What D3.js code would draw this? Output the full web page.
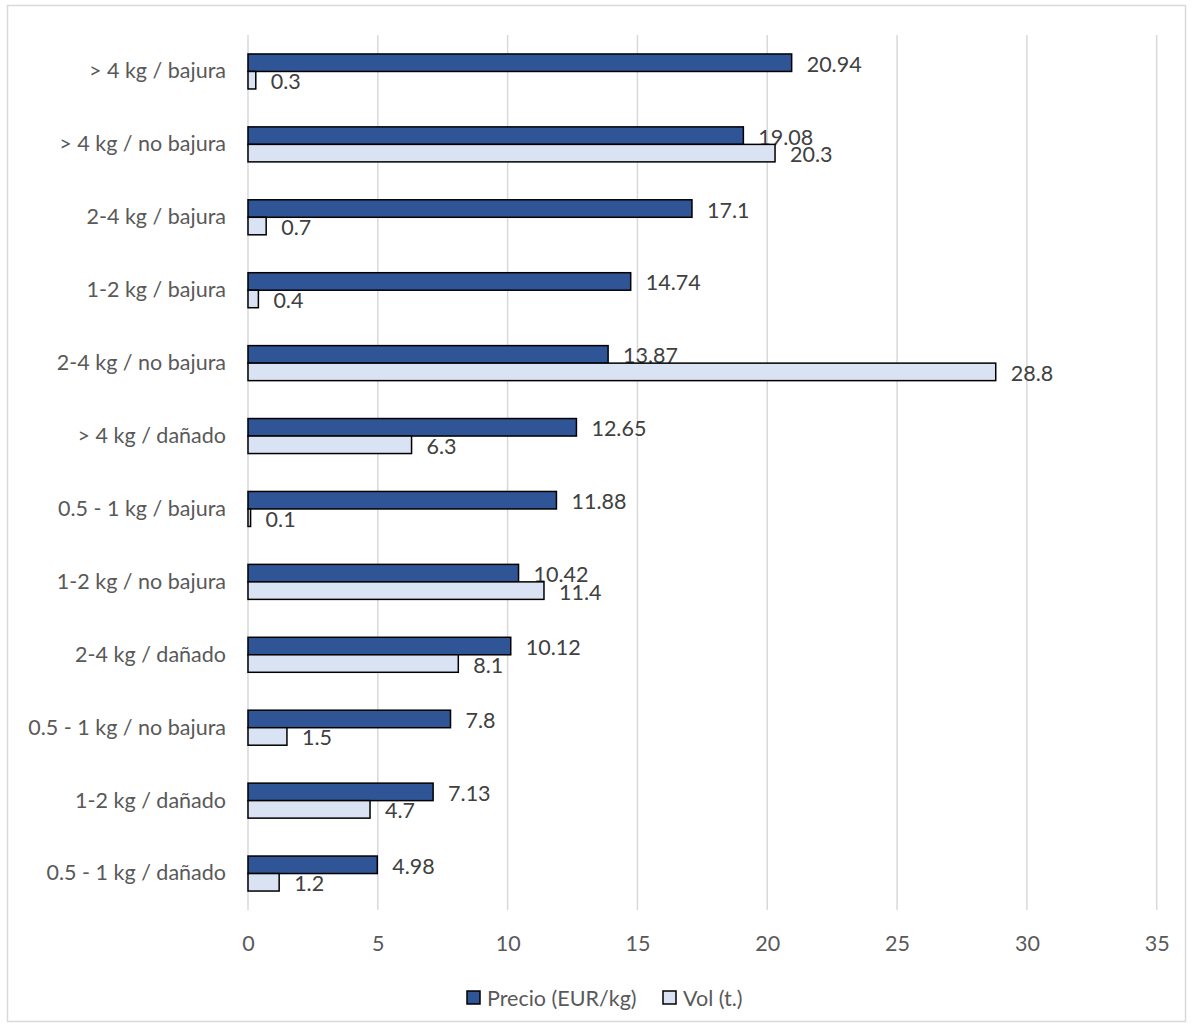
<!DOCTYPE html>
<html><head><meta charset="utf-8">
<script src="https://cdn.jsdelivr.net/npm/d3@7"></script>
<style>html,body{margin:0;padding:0;background:#fff;}svg{display:block;font-family:Lato,"Open Sans",sans-serif;}</style>
</head><body>
<svg id="c" width="1192" height="1028"></svg>
<script>
const categories = ["> 4 kg / bajura","> 4 kg / no bajura","2-4 kg / bajura","1-2 kg / bajura","2-4 kg / no bajura","> 4 kg / dañado","0.5 - 1 kg / bajura","1-2 kg / no bajura","2-4 kg / dañado","0.5 - 1 kg / no bajura","1-2 kg / dañado","0.5 - 1 kg / dañado"];
const precio = [20.94,19.08,17.1,14.74,13.87,12.65,11.88,10.42,10.12,7.8,7.13,4.98];
const vol = [0.3,20.3,0.7,0.4,28.8,6.3,0.1,11.4,8.1,1.5,4.7,1.2];
const xTicks = [0,5,10,15,20,25,30,35];
const seriesNames = ["Precio (EUR/kg)","Vol (t.)"];
const colors = ["#2F5597","#DAE3F3"];

const FS = 21.5;
const svg = d3.select("#c");
svg.append("rect").attr("x",7.5).attr("y",5.5).attr("width",1178).attr("height",1016)
  .attr("fill","#fff").attr("stroke","#d9d9d9").attr("stroke-width",1.5);

const L=248, R=1156.7, T=35, B=910;
const x = d3.scaleLinear().domain([0,35]).range([L,R]);
const y = d3.scaleBand().domain(categories).range([T,B]).paddingInner(0.52).paddingOuter(0.26);
const ys = d3.scaleBand().domain([0,1]).range([0,y.bandwidth()]);

svg.append("g").selectAll("line").data(xTicks).join("line")
  .attr("x1",d=>x(d)).attr("x2",d=>x(d)).attr("y1",T).attr("y2",B)
  .attr("stroke","#d9d9d9").attr("stroke-width",1.5);

const xa = svg.append("g").attr("transform",`translate(0,${B})`)
  .call(d3.axisBottom(x).tickValues(xTicks).tickSize(0).tickPadding(26));
xa.select(".domain").remove();
xa.selectAll("text").attr("font-size",FS).attr("fill","#595959").attr("font-family","Lato");

const ya = svg.append("g").attr("transform",`translate(${L},0)`)
  .call(d3.axisLeft(y).tickSize(0).tickPadding(22));
ya.select(".domain").remove();
ya.selectAll("text").attr("font-size",FS).attr("fill","#595959").attr("font-family","Lato");

const series = [precio, vol];
series.forEach((vals,si)=>{
  const g = svg.append("g");
  g.selectAll("rect").data(vals).join("rect")
    .attr("x",x(0)).attr("y",(d,i)=>y(categories[i])+ys(si))
    .attr("width",d=>x(d)-x(0)).attr("height",ys.bandwidth())
    .attr("fill",colors[si]).attr("stroke","#000").attr("stroke-width",1.5);
  g.selectAll("text").data(vals).join("text")
    .attr("x",d=>x(d)+15).attr("y",(d,i)=>y(categories[i])+ys(si)+ys.bandwidth()/2+1)
    .attr("dominant-baseline","central")
    .attr("font-size",FS).attr("fill","#404040").text(d=>d);
});

const lg = svg.append("g");
const legX = [467, 663];
seriesNames.forEach((n,i)=>{
  lg.append("rect").attr("x",legX[i]).attr("y",991).attr("width",13).attr("height",13)
    .attr("fill",colors[i]).attr("stroke","#000").attr("stroke-width",1.5);
  lg.append("text").attr("x",legX[i]+20).attr("y",998).attr("dominant-baseline","central")
    .attr("font-size",FS).attr("fill","#595959").text(n);
});
</script>
</body></html>
